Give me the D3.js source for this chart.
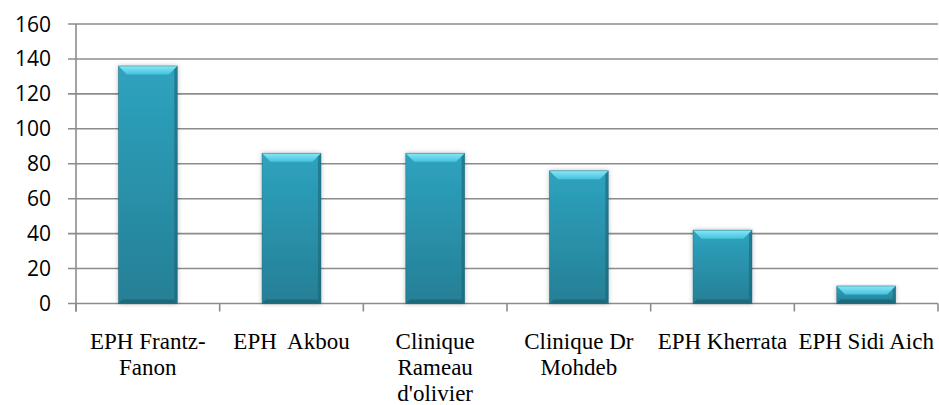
<!DOCTYPE html>
<html><head><meta charset="utf-8">
<script src="https://cdn.jsdelivr.net/npm/d3@7"></script>
<style>
body{margin:0;background:#fff} svg{display:block}
.cat{font-family:"Liberation Serif","Times New Roman","DejaVu Serif",serif;font-size:23px;white-space:pre}
.ylab{font-family:"Open Sans",Lato,sans-serif;font-size:21px}
</style>
</head><body>
<svg id="chart" width="939" height="405"></svg>
<script>
// Hospital categories (line breaks mark where the label wraps)
const categories = ["EPH Frantz-\nFanon", "EPH  Akbou", "Clinique\nRameau\nd'olivier", "Clinique Dr\nMohdeb", "EPH Kherrata", "EPH Sidi Aich"];
const values = [136, 86, 86, 76, 42, 10];
const yTicks = [0, 20, 40, 60, 80, 100, 120, 140, 160];

const svg = d3.select("#chart");
const m = {left: 76, right: 938, top: 24, bottom: 303.5};

const x = d3.scaleBand().domain(categories).range([m.left, m.right])
  .paddingInner(0.59).paddingOuter(0.295);
const y = d3.scaleLinear().domain([0, 160]).range([m.bottom, m.top]);

const defs = svg.append("defs");
const body = defs.append("linearGradient").attr("id", "body").attr("x1", 0).attr("y1", 0).attr("x2", 0).attr("y2", 1);
body.append("stop").attr("offset", 0).attr("stop-color", "#2ea3bf");
body.append("stop").attr("offset", 1).attr("stop-color", "#257f95");
const topG = defs.append("linearGradient").attr("id", "topbev").attr("x1", 0).attr("y1", 0).attr("x2", 0).attr("y2", 1);
topG.append("stop").attr("offset", 0).attr("stop-color", "#86e8f8");
topG.append("stop").attr("offset", 1).attr("stop-color", "#48c2dd");
const sh = defs.append("filter").attr("id", "shadow").attr("x", "-30%").attr("y", "-10%").attr("width", "160%").attr("height", "120%");
sh.append("feGaussianBlur").attr("in", "SourceAlpha").attr("stdDeviation", 2.5).attr("result", "b");
sh.append("feComponentTransfer").attr("in", "b").attr("result", "s")
  .append("feFuncA").attr("type", "linear").attr("slope", 0.25);
const mg = sh.append("feMerge");
mg.append("feMergeNode").attr("in", "s");
mg.append("feMergeNode").attr("in", "SourceGraphic");

// Gridlines with left tick stubs
svg.append("g").selectAll("line").data(yTicks).join("line")
  .attr("x1", m.left - 8).attr("x2", m.right)
  .attr("y1", d => y(d)).attr("y2", d => y(d))
  .attr("stroke", "#8c8c8c").attr("stroke-width", 1.6);

// Vertical axis line
svg.append("line").attr("x1", m.left).attr("x2", m.left)
  .attr("y1", y(160)).attr("y2", m.bottom + 8)
  .attr("stroke", "#8c8c8c").attr("stroke-width", 1.6);

// Category boundary ticks
const bounds = categories.map(c => x(c) - x.step() * x.paddingOuter()).concat([m.right]);
svg.append("g").selectAll("line").data(bounds).join("line")
  .attr("x1", d => d).attr("x2", d => d)
  .attr("y1", m.bottom).attr("y2", m.bottom + 8)
  .attr("stroke", "#8c8c8c").attr("stroke-width", 1.6);

// Y labels
svg.append("g").selectAll("text").data(yTicks).join("text")
  .attr("class", "ylab")
  .attr("x", 51).attr("y", d => y(d)).attr("dy", "0.36em")
  .attr("text-anchor", "end").attr("fill", "#000")
  .text(d => d);

// Bevelled bars
const bars = svg.append("g").selectAll("g").data(categories).join("g")
  .attr("filter", "url(#shadow)");
bars.each(function(c, i) {
  const g = d3.select(this);
  const x0 = x(c), x1 = x0 + x.bandwidth();
  const y0 = y(values[i]), y1 = y(0);
  const b = Math.min(8.5, (y1 - y0) / 2);
  const pts = a => a.map(p => p.join(",")).join(" ");
  g.append("rect").attr("x", x0).attr("y", y0).attr("width", x1 - x0).attr("height", y1 - y0).attr("fill", "url(#body)");
  g.append("polygon").attr("points", pts([[x1, y0], [x1 - 3, y0 + 3], [x1 - 3, y1 - 3], [x1, y1]])).attr("fill", "#1b6577").attr("opacity", 0.6);
  g.append("polygon").attr("points", pts([[x0, y1], [x0 + 4, y1 - 4], [x1 - 4, y1 - 4], [x1, y1]])).attr("fill", "#1b5f70").attr("opacity", 0.7);
  g.append("polygon").attr("points", pts([[x0, y0], [x1, y0], [x1 - b, y0 + b], [x0 + b, y0 + b]])).attr("fill", "url(#topbev)");
  g.append("rect").attr("x", x0).attr("y", y0).attr("width", x1 - x0).attr("height", y1 - y0)
    .attr("fill", "none").attr("stroke", "#1a5a6b").attr("stroke-width", 0.8).attr("stroke-opacity", 0.5);
});

// Category labels
svg.append("g").selectAll("text").data(categories).join("text")
  .attr("class", "cat")
  .attr("text-anchor", "middle")
  .attr("x", c => x(c) + x.bandwidth() / 2)
  .attr("y", 349)
  .attr("fill", "#000")
  .each(function(c) {
    const t = d3.select(this);
    c.split("\n").forEach((line, k) => {
      t.append("tspan").attr("x", x(c) + x.bandwidth() / 2).attr("dy", k === 0 ? 0 : 26).text(line);
    });
  });
</script>
</body></html>
